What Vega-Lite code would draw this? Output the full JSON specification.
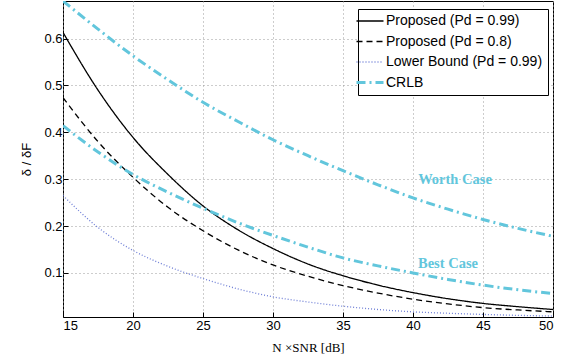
{
  "$schema": "https://vega.github.io/schema/vega-lite/v6.json",
  "width": 490,
  "height": 316,
  "autosize": {"type": "none"},
  "padding": {"left": 63, "top": 1, "right": 27, "bottom": 43},
  "background": "white",
  "config": {
    "view": {"stroke": "black", "strokeWidth": 1},
    "axis": {
      "domain": false,
      "grid": true,
      "gridDash": [1, 3],
      "gridColor": "#9a9a9a",
      "gridOpacity": 1,
      "tickColor": "black",
      "tickSize": -5,
      "labelFont": "Liberation Sans",
      "labelFontSize": 13,
      "labelColor": "black",
      "titleColor": "black",
      "titleFontWeight": "normal",
      "titleFontSize": 13
    },
    "legend": {
      "orient": "none",
      "legendX": 295,
      "legendY": 8,
      "padding": 5,
      "strokeColor": "black",
      "fillColor": "white",
      "symbolType": "stroke",
      "symbolSize": 729,
      "labelFont": "Liberation Sans",
      "labelFontSize": 14,
      "labelColor": "black",
      "rowPadding": 6.5,
      "labelOffset": 9
    }
  },
  "datasets": {
    "curves": [
      {"snr": 15, "v": 0.613, "series": "Proposed (Pd = 0.99)", "curve": "p99"},
      {"snr": 17.5, "v": 0.49, "series": "Proposed (Pd = 0.99)", "curve": "p99"},
      {"snr": 20, "v": 0.389, "series": "Proposed (Pd = 0.99)", "curve": "p99"},
      {"snr": 22.5, "v": 0.31, "series": "Proposed (Pd = 0.99)", "curve": "p99"},
      {"snr": 25, "v": 0.243, "series": "Proposed (Pd = 0.99)", "curve": "p99"},
      {"snr": 27.5, "v": 0.192, "series": "Proposed (Pd = 0.99)", "curve": "p99"},
      {"snr": 30, "v": 0.152, "series": "Proposed (Pd = 0.99)", "curve": "p99"},
      {"snr": 32.5, "v": 0.119, "series": "Proposed (Pd = 0.99)", "curve": "p99"},
      {"snr": 35, "v": 0.094, "series": "Proposed (Pd = 0.99)", "curve": "p99"},
      {"snr": 37.5, "v": 0.074, "series": "Proposed (Pd = 0.99)", "curve": "p99"},
      {"snr": 40, "v": 0.058, "series": "Proposed (Pd = 0.99)", "curve": "p99"},
      {"snr": 42.5, "v": 0.045, "series": "Proposed (Pd = 0.99)", "curve": "p99"},
      {"snr": 45, "v": 0.035, "series": "Proposed (Pd = 0.99)", "curve": "p99"},
      {"snr": 47.5, "v": 0.028, "series": "Proposed (Pd = 0.99)", "curve": "p99"},
      {"snr": 50, "v": 0.022, "series": "Proposed (Pd = 0.99)", "curve": "p99"},
      {"snr": 15, "v": 0.474, "series": "Proposed (Pd = 0.8)", "curve": "p8"},
      {"snr": 17.5, "v": 0.38, "series": "Proposed (Pd = 0.8)", "curve": "p8"},
      {"snr": 20, "v": 0.304, "series": "Proposed (Pd = 0.8)", "curve": "p8"},
      {"snr": 22.5, "v": 0.24, "series": "Proposed (Pd = 0.8)", "curve": "p8"},
      {"snr": 25, "v": 0.19, "series": "Proposed (Pd = 0.8)", "curve": "p8"},
      {"snr": 27.5, "v": 0.149, "series": "Proposed (Pd = 0.8)", "curve": "p8"},
      {"snr": 30, "v": 0.117, "series": "Proposed (Pd = 0.8)", "curve": "p8"},
      {"snr": 32.5, "v": 0.093, "series": "Proposed (Pd = 0.8)", "curve": "p8"},
      {"snr": 35, "v": 0.073, "series": "Proposed (Pd = 0.8)", "curve": "p8"},
      {"snr": 37.5, "v": 0.057, "series": "Proposed (Pd = 0.8)", "curve": "p8"},
      {"snr": 40, "v": 0.044, "series": "Proposed (Pd = 0.8)", "curve": "p8"},
      {"snr": 42.5, "v": 0.034, "series": "Proposed (Pd = 0.8)", "curve": "p8"},
      {"snr": 45, "v": 0.026, "series": "Proposed (Pd = 0.8)", "curve": "p8"},
      {"snr": 47.5, "v": 0.021, "series": "Proposed (Pd = 0.8)", "curve": "p8"},
      {"snr": 50, "v": 0.017, "series": "Proposed (Pd = 0.8)", "curve": "p8"},
      {"snr": 15, "v": 0.265, "series": "Lower Bound (Pd = 0.99)", "curve": "lb"},
      {"snr": 17.5, "v": 0.197, "series": "Lower Bound (Pd = 0.99)", "curve": "lb"},
      {"snr": 20, "v": 0.148, "series": "Lower Bound (Pd = 0.99)", "curve": "lb"},
      {"snr": 22.5, "v": 0.114, "series": "Lower Bound (Pd = 0.99)", "curve": "lb"},
      {"snr": 25, "v": 0.088, "series": "Lower Bound (Pd = 0.99)", "curve": "lb"},
      {"snr": 27.5, "v": 0.066, "series": "Lower Bound (Pd = 0.99)", "curve": "lb"},
      {"snr": 30, "v": 0.049, "series": "Lower Bound (Pd = 0.99)", "curve": "lb"},
      {"snr": 32.5, "v": 0.038, "series": "Lower Bound (Pd = 0.99)", "curve": "lb"},
      {"snr": 35, "v": 0.029, "series": "Lower Bound (Pd = 0.99)", "curve": "lb"},
      {"snr": 37.5, "v": 0.022, "series": "Lower Bound (Pd = 0.99)", "curve": "lb"},
      {"snr": 40, "v": 0.017, "series": "Lower Bound (Pd = 0.99)", "curve": "lb"},
      {"snr": 42.5, "v": 0.014, "series": "Lower Bound (Pd = 0.99)", "curve": "lb"},
      {"snr": 45, "v": 0.0115, "series": "Lower Bound (Pd = 0.99)", "curve": "lb"},
      {"snr": 47.5, "v": 0.0095, "series": "Lower Bound (Pd = 0.99)", "curve": "lb"},
      {"snr": 50, "v": 0.008, "series": "Lower Bound (Pd = 0.99)", "curve": "lb"},
      {"snr": 15, "v": 0.68, "series": "CRLB", "curve": "worth"},
      {"snr": 17.5, "v": 0.62, "series": "CRLB", "curve": "worth"},
      {"snr": 20, "v": 0.563, "series": "CRLB", "curve": "worth"},
      {"snr": 22.5, "v": 0.512, "series": "CRLB", "curve": "worth"},
      {"snr": 25, "v": 0.464, "series": "CRLB", "curve": "worth"},
      {"snr": 27.5, "v": 0.423, "series": "CRLB", "curve": "worth"},
      {"snr": 30, "v": 0.384, "series": "CRLB", "curve": "worth"},
      {"snr": 32.5, "v": 0.35, "series": "CRLB", "curve": "worth"},
      {"snr": 35, "v": 0.318, "series": "CRLB", "curve": "worth"},
      {"snr": 37.5, "v": 0.288, "series": "CRLB", "curve": "worth"},
      {"snr": 40, "v": 0.26, "series": "CRLB", "curve": "worth"},
      {"snr": 42.5, "v": 0.236, "series": "CRLB", "curve": "worth"},
      {"snr": 45, "v": 0.214, "series": "CRLB", "curve": "worth"},
      {"snr": 47.5, "v": 0.195, "series": "CRLB", "curve": "worth"},
      {"snr": 50, "v": 0.178, "series": "CRLB", "curve": "worth"},
      {"snr": 15, "v": 0.414, "series": "CRLB", "curve": "best"},
      {"snr": 17.5, "v": 0.358, "series": "CRLB", "curve": "best"},
      {"snr": 20, "v": 0.31, "series": "CRLB", "curve": "best"},
      {"snr": 22.5, "v": 0.272, "series": "CRLB", "curve": "best"},
      {"snr": 25, "v": 0.238, "series": "CRLB", "curve": "best"},
      {"snr": 27.5, "v": 0.207, "series": "CRLB", "curve": "best"},
      {"snr": 30, "v": 0.18, "series": "CRLB", "curve": "best"},
      {"snr": 32.5, "v": 0.155, "series": "CRLB", "curve": "best"},
      {"snr": 35, "v": 0.132, "series": "CRLB", "curve": "best"},
      {"snr": 37.5, "v": 0.115, "series": "CRLB", "curve": "best"},
      {"snr": 40, "v": 0.1, "series": "CRLB", "curve": "best"},
      {"snr": 42.5, "v": 0.086, "series": "CRLB", "curve": "best"},
      {"snr": 45, "v": 0.074, "series": "CRLB", "curve": "best"},
      {"snr": 47.5, "v": 0.064, "series": "CRLB", "curve": "best"},
      {"snr": 50, "v": 0.056, "series": "CRLB", "curve": "best"}
    ],
    "labels": [
      {"snr": 43.0, "v": 0.299, "text": "Worth Case"},
      {"snr": 42.5, "v": 0.118, "text": "Best Case"}
    ]
  },
  "layer": [
    {
      "data": {"name": "curves"},
      "mark": {"type": "line", "interpolate": "monotone", "clip": true},
      "encoding": {
        "x": {
          "field": "snr", "type": "quantitative",
          "scale": {"domain": [15, 50], "nice": false},
          "axis": {"values": [15, 20, 25, 30, 35, 40, 45, 50], "title": "N \u00d7SNR [dB]", "titleFont": "Liberation Serif", "titlePadding": 9, "labelPadding": 7}
        },
        "y": {
          "field": "v", "type": "quantitative",
          "scale": {"domain": [0.006, 0.68], "nice": false, "zero": false},
          "axis": {"values": [0.1, 0.2, 0.3, 0.4, 0.5, 0.6], "format": ".1f", "title": "\u03b4 / \u03b4F", "titleFont": "Liberation Sans", "titlePadding": 10, "labelPadding": 6}
        },
        "color": {
          "field": "series", "type": "nominal", "title": null,
          "scale": {
            "domain": ["Proposed (Pd = 0.99)", "Proposed (Pd = 0.8)", "Lower Bound (Pd = 0.99)", "CRLB"],
            "range": ["#000000", "#000000", "#6f7fd6", "#62c6dc"]
          },
          "legend": {
            "encode": {
              "symbols": {
                "update": {
                  "strokeWidth": {"signal": "datum.value === 'CRLB' ? 3 : 1.3"}
                }
              }
            }
          }
        },
        "strokeDash": {
          "field": "series", "type": "nominal", "title": null,
          "scale": {
            "domain": ["Proposed (Pd = 0.99)", "Proposed (Pd = 0.8)", "Lower Bound (Pd = 0.99)", "CRLB"],
            "range": [[1, 0], [6, 4], [1, 2], [9, 4, 2, 4]]
          }
        },
        "strokeWidth": {
          "condition": {"test": "datum.series === 'CRLB'", "value": 3},
          "value": 1.3
        },
        "detail": {"field": "curve"}
      }
    },
    {
      "data": {"name": "labels"},
      "mark": {"type": "text", "font": "Liberation Serif", "fontWeight": "bold", "fontSize": 14.5, "color": "#62c6dc"},
      "encoding": {
        "x": {"field": "snr", "type": "quantitative"},
        "y": {"field": "v", "type": "quantitative"},
        "text": {"field": "text"}
      }
    }
  ]
}
